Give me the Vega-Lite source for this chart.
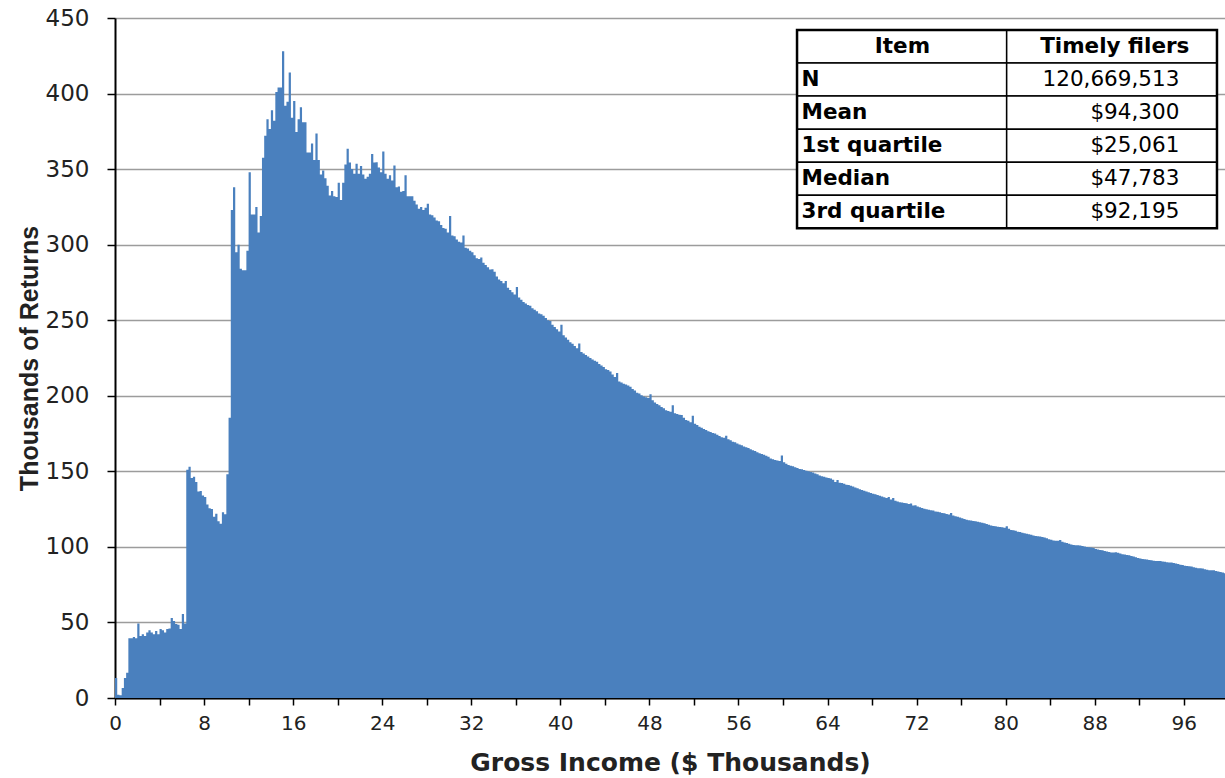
{
"$schema": "https://vega.github.io/schema/vega-lite/v6.json",
"width": 1110, "height": 680,
"autosize": "none",
"padding": {"left": 115, "top": 18, "right": 0, "bottom": 80},
"background": "white",
"config": {"view": {"stroke": null}},
"datasets": {
"hist": [
{"x":0,"n":13.3},{"x":0.2,"n":2.2},{"x":0.4,"n":1.8},{"x":0.6,"n":6.7},{"x":0.8,"n":13.3},
{"x":1,"n":16.7},{"x":1.2,"n":39.5},{"x":1.4,"n":39.5},{"x":1.6,"n":40.4},{"x":1.8,"n":39.5},
{"x":2,"n":49.3},{"x":2.2,"n":41},{"x":2.4,"n":42.2},{"x":2.6,"n":41},{"x":2.8,"n":43.3},
{"x":3,"n":44.9},{"x":3.2,"n":43.3},{"x":3.4,"n":42.2},{"x":3.6,"n":44.4},{"x":3.8,"n":42.2},
{"x":4,"n":45.6},{"x":4.2,"n":44.9},{"x":4.4,"n":43.3},{"x":4.6,"n":45.6},{"x":4.8,"n":46},
{"x":5,"n":52.9},{"x":5.2,"n":51},{"x":5.4,"n":48.9},{"x":5.6,"n":48.4},{"x":5.8,"n":45.6},
{"x":6,"n":55.6},{"x":6.2,"n":49.3},{"x":6.4,"n":151},{"x":6.6,"n":153},{"x":6.8,"n":145.6},
{"x":7,"n":146.4},{"x":7.2,"n":143},{"x":7.4,"n":136.7},{"x":7.6,"n":137},{"x":7.8,"n":134},
{"x":8,"n":133},{"x":8.2,"n":128},{"x":8.4,"n":125.6},{"x":8.6,"n":125},{"x":8.8,"n":120},
{"x":9,"n":122},{"x":9.2,"n":117},{"x":9.4,"n":115.3},{"x":9.6,"n":123},{"x":9.8,"n":121.6},
{"x":10,"n":148},{"x":10.2,"n":185.5},{"x":10.4,"n":323},{"x":10.6,"n":338},{"x":10.8,"n":295},
{"x":11,"n":300},{"x":11.2,"n":284},{"x":11.4,"n":283},{"x":11.6,"n":283},{"x":11.8,"n":296},
{"x":12,"n":348},{"x":12.2,"n":320},{"x":12.4,"n":320},{"x":12.6,"n":325},{"x":12.8,"n":308},
{"x":13,"n":319},{"x":13.2,"n":357.5},{"x":13.4,"n":372},{"x":13.6,"n":383},{"x":13.8,"n":376.5},
{"x":14,"n":389},{"x":14.2,"n":382},{"x":14.4,"n":401},{"x":14.6,"n":404},{"x":14.8,"n":404},
{"x":15,"n":428},{"x":15.2,"n":392},{"x":15.4,"n":394.5},{"x":15.6,"n":414},{"x":15.8,"n":384},
{"x":16,"n":395},{"x":16.2,"n":374.5},{"x":16.4,"n":383},{"x":16.6,"n":391},{"x":16.8,"n":381},
{"x":17,"n":381},{"x":17.2,"n":361},{"x":17.4,"n":361},{"x":17.6,"n":367},{"x":17.8,"n":356},
{"x":18,"n":373.5},{"x":18.2,"n":356},{"x":18.4,"n":346.5},{"x":18.6,"n":349},{"x":18.8,"n":344},
{"x":19,"n":339},{"x":19.2,"n":332.5},{"x":19.4,"n":335.5},{"x":19.6,"n":332},{"x":19.8,"n":331.5},
{"x":20,"n":341},{"x":20.2,"n":329.6},{"x":20.4,"n":341},{"x":20.6,"n":353},{"x":20.8,"n":363.5},
{"x":21,"n":354.4},{"x":21.2,"n":350},{"x":21.4,"n":347},{"x":21.6,"n":353.5},{"x":21.8,"n":347},
{"x":22,"n":352},{"x":22.2,"n":346.5},{"x":22.4,"n":343.6},{"x":22.6,"n":345},{"x":22.8,"n":347},
{"x":23,"n":360},{"x":23.2,"n":354.4},{"x":23.4,"n":354.6},{"x":23.6,"n":351},{"x":23.8,"n":348},
{"x":24,"n":361.7},{"x":24.2,"n":347},{"x":24.4,"n":343.6},{"x":24.6,"n":346},{"x":24.8,"n":342.5},
{"x":25,"n":352.4},{"x":25.2,"n":338},{"x":25.4,"n":338.5},{"x":25.6,"n":335},{"x":25.8,"n":335.5},
{"x":26,"n":346},{"x":26.2,"n":332},{"x":26.4,"n":332},{"x":26.6,"n":332},{"x":26.8,"n":329},
{"x":27,"n":326.5},{"x":27.2,"n":323.7},{"x":27.4,"n":325},{"x":27.6,"n":323},{"x":27.8,"n":324.5},
{"x":28,"n":327},{"x":28.2,"n":320},{"x":28.4,"n":319.5},{"x":28.6,"n":318},{"x":28.8,"n":316},
{"x":29,"n":315.5},{"x":29.2,"n":313},{"x":29.4,"n":311},{"x":29.6,"n":310.5},{"x":29.8,"n":308},
{"x":30,"n":319},{"x":30.2,"n":306},{"x":30.4,"n":305.5},{"x":30.6,"n":303.5},{"x":30.8,"n":302},
{"x":31,"n":301.5},{"x":31.2,"n":306},{"x":31.4,"n":298},{"x":31.6,"n":297.5},{"x":31.8,"n":296},
{"x":32,"n":295},{"x":32.2,"n":293},{"x":32.4,"n":291},{"x":32.6,"n":290.5},{"x":32.8,"n":291.5},
{"x":33,"n":288},{"x":33.2,"n":286.5},{"x":33.4,"n":285},{"x":33.6,"n":283.5},{"x":33.8,"n":283.8},
{"x":34,"n":282},{"x":34.2,"n":279},{"x":34.4,"n":277},{"x":34.6,"n":276},{"x":34.8,"n":274.5},
{"x":35,"n":276},{"x":35.2,"n":271.5},{"x":35.4,"n":270},{"x":35.6,"n":268.5},{"x":35.8,"n":267},
{"x":36,"n":272},{"x":36.2,"n":265},{"x":36.4,"n":263.5},{"x":36.6,"n":262},{"x":36.8,"n":261},
{"x":37,"n":260},{"x":37.2,"n":259.5},{"x":37.4,"n":258},{"x":37.6,"n":257},{"x":37.8,"n":256},
{"x":38,"n":254.5},{"x":38.2,"n":254},{"x":38.4,"n":253},{"x":38.6,"n":251.5},{"x":38.8,"n":250},
{"x":39,"n":249.5},{"x":39.2,"n":247},{"x":39.4,"n":245.5},{"x":39.6,"n":244},{"x":39.8,"n":242.5},
{"x":40,"n":247},{"x":40.2,"n":240},{"x":40.4,"n":238.5},{"x":40.6,"n":237},{"x":40.8,"n":235.5},
{"x":41,"n":234.5},{"x":41.2,"n":233},{"x":41.4,"n":231.5},{"x":41.6,"n":234.6},{"x":41.8,"n":229},
{"x":42,"n":228},{"x":42.2,"n":227},{"x":42.4,"n":226},{"x":42.6,"n":225},{"x":42.8,"n":224},
{"x":43,"n":223.2},{"x":43.2,"n":222.5},{"x":43.4,"n":221},{"x":43.6,"n":220},{"x":43.8,"n":219},
{"x":44,"n":217.5},{"x":44.2,"n":217},{"x":44.4,"n":216},{"x":44.6,"n":214},{"x":44.8,"n":212.5},
{"x":45,"n":215},{"x":45.2,"n":209.5},{"x":45.4,"n":208.8},{"x":45.6,"n":208},{"x":45.8,"n":207.5},
{"x":46,"n":206.8},{"x":46.2,"n":206},{"x":46.4,"n":204.5},{"x":46.6,"n":203.5},{"x":46.8,"n":202},
{"x":47,"n":201.5},{"x":47.2,"n":200.3},{"x":47.4,"n":199.5},{"x":47.6,"n":199},{"x":47.8,"n":198.5},
{"x":48,"n":201},{"x":48.2,"n":197},{"x":48.4,"n":195.5},{"x":48.6,"n":194.5},{"x":48.8,"n":193.8},
{"x":49,"n":192.5},{"x":49.2,"n":191.8},{"x":49.4,"n":190.5},{"x":49.6,"n":190},{"x":49.8,"n":189.5},
{"x":50,"n":193.8},{"x":50.2,"n":188.5},{"x":50.4,"n":188},{"x":50.6,"n":187.4},{"x":50.8,"n":187.2},
{"x":51,"n":185.5},{"x":51.2,"n":184},{"x":51.4,"n":183.5},{"x":51.6,"n":182.4},{"x":51.8,"n":186.8},
{"x":52,"n":181.5},{"x":52.2,"n":180.6},{"x":52.4,"n":179.5},{"x":52.6,"n":178.8},{"x":52.8,"n":178},
{"x":53,"n":177.4},{"x":53.2,"n":176.5},{"x":53.4,"n":176},{"x":53.6,"n":175.3},{"x":53.8,"n":175},
{"x":54,"n":174.2},{"x":54.2,"n":173.4},{"x":54.4,"n":172.6},{"x":54.6,"n":172.3},{"x":54.8,"n":173.5},
{"x":55,"n":171.3},{"x":55.2,"n":170.5},{"x":55.4,"n":169.6},{"x":55.6,"n":169.2},{"x":55.8,"n":168.5},
{"x":56,"n":167.8},{"x":56.2,"n":167.2},{"x":56.4,"n":166.5},{"x":56.6,"n":166},{"x":56.8,"n":165.4},
{"x":57,"n":164.6},{"x":57.2,"n":164},{"x":57.4,"n":163.4},{"x":57.6,"n":162.6},{"x":57.8,"n":162},
{"x":58,"n":161.5},{"x":58.2,"n":161},{"x":58.4,"n":160.3},{"x":58.6,"n":159.6},{"x":58.8,"n":158.5},
{"x":59,"n":158},{"x":59.2,"n":157.5},{"x":59.4,"n":157.2},{"x":59.6,"n":156.8},{"x":59.8,"n":160.4},
{"x":60,"n":156},{"x":60.2,"n":155},{"x":60.4,"n":154.2},{"x":60.6,"n":153.7},{"x":60.8,"n":153.3},
{"x":61,"n":152.7},{"x":61.2,"n":152.2},{"x":61.4,"n":151.6},{"x":61.6,"n":151.3},{"x":61.8,"n":150.8},
{"x":62,"n":150.4},{"x":62.2,"n":150},{"x":62.4,"n":149.5},{"x":62.6,"n":149.2},{"x":62.8,"n":148.6},
{"x":63,"n":148},{"x":63.2,"n":147.3},{"x":63.4,"n":146.8},{"x":63.6,"n":146.4},{"x":63.8,"n":146},
{"x":64,"n":145.6},{"x":64.2,"n":145.2},{"x":64.4,"n":144.4},{"x":64.6,"n":143},{"x":64.8,"n":144.3},
{"x":65,"n":142.5},{"x":65.2,"n":142.2},{"x":65.4,"n":141.8},{"x":65.6,"n":141.2},{"x":65.8,"n":141},
{"x":66,"n":140.4},{"x":66.2,"n":139.9},{"x":66.4,"n":139.3},{"x":66.6,"n":138.8},{"x":66.8,"n":138.2},
{"x":67,"n":137.7},{"x":67.2,"n":137.2},{"x":67.4,"n":136.6},{"x":67.6,"n":136.2},{"x":67.8,"n":135.7},
{"x":68,"n":135.2},{"x":68.2,"n":134.8},{"x":68.4,"n":134.3},{"x":68.6,"n":133.8},{"x":68.8,"n":133.4},
{"x":69,"n":132.8},{"x":69.2,"n":132.4},{"x":69.4,"n":133},{"x":69.6,"n":131.3},{"x":69.8,"n":132.3},
{"x":70,"n":130.6},{"x":70.2,"n":130.1},{"x":70.4,"n":129.6},{"x":70.6,"n":129.4},{"x":70.8,"n":129.1},
{"x":71,"n":128.8},{"x":71.2,"n":128.3},{"x":71.4,"n":128.7},{"x":71.6,"n":127.4},{"x":71.8,"n":127.6},
{"x":72,"n":126.7},{"x":72.2,"n":126.2},{"x":72.4,"n":125.7},{"x":72.6,"n":125.3},{"x":72.8,"n":124.9},
{"x":73,"n":124.5},{"x":73.2,"n":124.2},{"x":73.4,"n":124},{"x":73.6,"n":123.5},{"x":73.8,"n":123.3},
{"x":74,"n":122.9},{"x":74.2,"n":122.5},{"x":74.4,"n":122.2},{"x":74.6,"n":121.8},{"x":74.8,"n":121.4},
{"x":75,"n":122.4},{"x":75.2,"n":120.7},{"x":75.4,"n":120.3},{"x":75.6,"n":120},{"x":75.8,"n":119.5},
{"x":76,"n":118.9},{"x":76.2,"n":118.5},{"x":76.4,"n":118},{"x":76.6,"n":117.7},{"x":76.8,"n":117.5},
{"x":77,"n":117.2},{"x":77.2,"n":116.9},{"x":77.4,"n":116.7},{"x":77.6,"n":116.3},{"x":77.8,"n":115.9},
{"x":78,"n":115.6},{"x":78.2,"n":115.2},{"x":78.4,"n":114.6},{"x":78.6,"n":114.2},{"x":78.8,"n":113.9},
{"x":79,"n":113.6},{"x":79.2,"n":113.4},{"x":79.4,"n":113.2},{"x":79.6,"n":113},{"x":79.8,"n":112.7},
{"x":80,"n":113.7},{"x":80.2,"n":112},{"x":80.4,"n":111.2},{"x":80.6,"n":111},{"x":80.8,"n":110.6},
{"x":81,"n":110.1},{"x":81.2,"n":109.8},{"x":81.4,"n":109.4},{"x":81.6,"n":109},{"x":81.8,"n":108.7},
{"x":82,"n":108.4},{"x":82.2,"n":108},{"x":82.4,"n":107.5},{"x":82.6,"n":107.2},{"x":82.8,"n":107},
{"x":83,"n":106.8},{"x":83.2,"n":106.5},{"x":83.4,"n":106.2},{"x":83.6,"n":105.7},{"x":83.8,"n":105.1},
{"x":84,"n":104.7},{"x":84.2,"n":104.2},{"x":84.4,"n":104},{"x":84.6,"n":104},{"x":84.8,"n":104.5},
{"x":85,"n":103.4},{"x":85.2,"n":102.9},{"x":85.4,"n":102.5},{"x":85.6,"n":102},{"x":85.8,"n":101.6},
{"x":86,"n":101.2},{"x":86.2,"n":101.1},{"x":86.4,"n":101.1},{"x":86.6,"n":101},{"x":86.8,"n":100.6},
{"x":87,"n":100.3},{"x":87.2,"n":100},{"x":87.4,"n":99.8},{"x":87.6,"n":99.6},{"x":87.8,"n":99.2},
{"x":88,"n":98.6},{"x":88.2,"n":98.3},{"x":88.4,"n":98},{"x":88.6,"n":97.8},{"x":88.8,"n":97.3},
{"x":89,"n":96.9},{"x":89.2,"n":96.6},{"x":89.4,"n":96.3},{"x":89.6,"n":96.3},{"x":89.8,"n":96.4},
{"x":90,"n":96.2},{"x":90.2,"n":95.6},{"x":90.4,"n":95.2},{"x":90.6,"n":95},{"x":90.8,"n":94.7},
{"x":91,"n":94.4},{"x":91.2,"n":93.9},{"x":91.4,"n":93.6},{"x":91.6,"n":93.1},{"x":91.8,"n":92.6},
{"x":92,"n":92.3},{"x":92.2,"n":92},{"x":92.4,"n":91.9},{"x":92.6,"n":91.6},{"x":92.8,"n":91.4},
{"x":93,"n":91.1},{"x":93.2,"n":90.8},{"x":93.4,"n":90.7},{"x":93.6,"n":90.7},{"x":93.8,"n":90.6},
{"x":94,"n":90.3},{"x":94.2,"n":90.1},{"x":94.4,"n":89.9},{"x":94.6,"n":89.7},{"x":94.8,"n":89.6},
{"x":95,"n":89.3},{"x":95.2,"n":89},{"x":95.4,"n":88.6},{"x":95.6,"n":88.2},{"x":95.8,"n":88},
{"x":96,"n":87.6},{"x":96.2,"n":87.4},{"x":96.4,"n":87.2},{"x":96.6,"n":87},{"x":96.8,"n":86.6},
{"x":97,"n":86.2},{"x":97.2,"n":85.9},{"x":97.4,"n":85.8},{"x":97.6,"n":85.7},{"x":97.8,"n":85.2},
{"x":98,"n":84.8},{"x":98.2,"n":84.6},{"x":98.4,"n":84.6},{"x":98.6,"n":84.5},{"x":98.8,"n":84},
{"x":99,"n":83.7},{"x":99.2,"n":83.4},{"x":99.4,"n":83},{"x":99.6,"n":82.5},{"x":99.8,"n":82.2}
],
"tbl": [
{"item":"Item","val":"Timely filers"},
{"item":"N","val":"120,669,513"},
{"item":"Mean","val":"$94,300"},
{"item":"1st quartile","val":"$25,061"},
{"item":"Median","val":"$47,783"},
{"item":"3rd quartile","val":"$92,195"}
]
},
"layer": [
{
"data": {"name": "hist"},
"mark": {"type": "area", "interpolate": "step-after", "color": "#4a80be", "clip": true},
"encoding": {
"x": {"field": "x", "type": "quantitative",
"scale": {"domain": [0, 99.7], "nice": false, "zero": false},
"axis": {"values": [0,2,4,6,8,10,12,14,16,18,20,22,24,26,28,30,32,34,36,38,40,42,44,46,48,50,52,54,56,58,60,62,64,66,68,70,72,74,76,78,80,82,84,86,88,90,92,94,96,98],
"labelExpr": "datum.value % 8 === 0 ? datum.label : ''",
"title": "Gross Income ($ Thousands)", "grid": false,
"domainColor": "black", "domainWidth": 2, "tickColor": "black", "tickWidth": 1.5, "tickSize": 7,
"labelFont": "DejaVu Sans", "labelFontSize": 20, "labelColor": "#222", "labelPadding": 8, "labelOverlap": false, "labelFlush": false,
"titleFont": "DejaVu Sans", "titleFontWeight": "bold", "titleFontSize": 25, "titleColor": "#222", "titlePadding": 17}},
"y": {"field": "n", "type": "quantitative",
"scale": {"domain": [0, 450], "nice": false},
"axis": {"values": [0,50,100,150,200,250,300,350,400,450],
"title": "Thousands of Returns", "grid": true, "gridColor": "#9c9c9c", "gridWidth": 1.5,
"domainColor": "black", "domainWidth": 2, "tickColor": "black", "tickWidth": 1.5, "tickSize": 8,
"labelFont": "DejaVu Sans", "labelFontSize": 23, "labelColor": "#222", "labelPadding": 18, "labelFlush": false,
"titleFont": "Liberation Sans", "titleFontWeight": "bold", "titleFontSize": 25, "titleColor": "#222", "titlePadding": 3}}
}
},
{
"data": {"name": "tbl"},
"encoding": {
"y": {"field": "item", "type": "nominal", "sort": null,
"scale": {"type": "band", "domain": ["Item","N","Mean","1st quartile","Median","3rd quartile","d1","d2","d3","d4","d5","d6","d7","d8","d9","d10","d11","d12","d13","d14"], "paddingInner": 0, "paddingOuter": 0.2875, "align": 0.6316},
"axis": null}
},
"layer": [
{"mark": {"type": "rect", "fill": "white", "stroke": "black", "strokeWidth": 1.5},
 "encoding": {"x": {"datum": 61.26}, "x2": {"datum": 80.09}}},
{"mark": {"type": "rect", "fill": "white", "stroke": "black", "strokeWidth": 1.5},
 "encoding": {"x": {"datum": 80.09}, "x2": {"datum": 98.98}}},
{"transform": [{"filter": "datum.item === 'Item'"}],
 "mark": {"type": "rect", "fillOpacity": 0, "stroke": "black", "strokeWidth": 2.5},
 "encoding": {"x": {"datum": 61.26}, "x2": {"datum": 98.98}, "y": {"datum": "Item", "bandPosition": 0}, "y2": {"datum": "d1", "bandPosition": 0}}},
{"transform": [{"filter": "datum.item === 'Item'"}],
 "mark": {"type": "text", "align": "center", "baseline": "middle", "font": "DejaVu Sans", "fontSize": 21.5, "fontWeight": "bold", "color": "black"},
 "encoding": {"x": {"datum": 70.73}, "text": {"field": "item"}}},
{"transform": [{"filter": "datum.item === 'Item'"}],
 "mark": {"type": "text", "align": "center", "baseline": "middle", "font": "DejaVu Sans", "fontSize": 21.5, "fontWeight": "bold", "color": "black"},
 "encoding": {"x": {"datum": 89.8}, "text": {"field": "val"}}},
{"transform": [{"filter": "datum.item !== 'Item'"}],
 "mark": {"type": "text", "align": "left", "baseline": "middle", "font": "DejaVu Sans", "fontSize": 21.5, "fontWeight": "bold", "color": "black"},
 "encoding": {"x": {"datum": 61.66}, "text": {"field": "item"}}},
{"transform": [{"filter": "datum.item !== 'Item'"}],
 "mark": {"type": "text", "align": "right", "baseline": "middle", "font": "DejaVu Sans", "fontSize": 21.5, "color": "black"},
 "encoding": {"x": {"datum": 95.6}, "text": {"field": "val"}}}
]
}
],
"resolve": {"scale": {"y": "independent"}}
}
